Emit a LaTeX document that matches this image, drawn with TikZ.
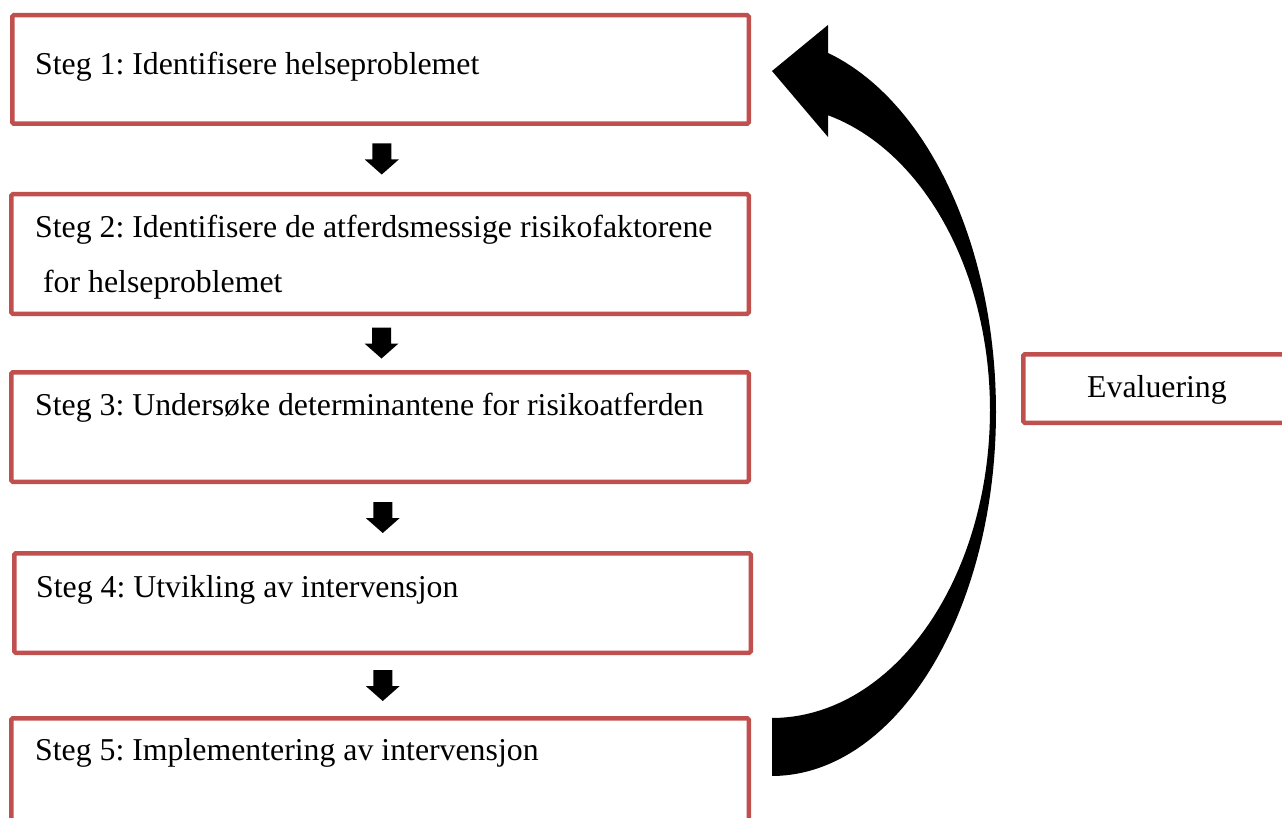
\documentclass[tikz,border=0pt]{standalone}
\usepackage{fontspec}
\setmainfont{Liberation Serif}
\usetikzlibrary{calc}
\definecolor{boxred}{RGB}{192,80,77}
\frenchspacing
\begin{document}
\begin{tikzpicture}[x=1pt,y=-1pt,
  stepbox/.style={draw=boxred, line width=4.5pt, rounded corners=1.5pt,
    outer sep=0pt, inner sep=0pt, anchor=north west},
  steptext/.style={anchor=base west, inner sep=0pt,
    font=\fontsize{31.8}{38}\selectfont},
  pics/downarr/.style={code={
    \fill[black] (-9.5,-15.5) -- (9.5,-15.5) -- (9.5,0.5) -- (17,0.5)
      -- (0,15.5) -- (-17,0.5) -- (-9.5,0.5) -- cycle;}}
]
\useasboundingbox (0,0) rectangle (1282,818);
\clip (0,0) rectangle (1282,818);

% the five steps and the evaluation box
\node[stepbox, minimum width=736.5pt, minimum height=108.5pt] (b1) at (12.25,15.25) {};
\node[stepbox, minimum width=737.5pt, minimum height=119.5pt] (b2) at (11.25,194.25) {};
\node[stepbox, minimum width=737.5pt, minimum height=109.5pt] (b3) at (11.25,372.25) {};
\node[stepbox, minimum width=736.5pt, minimum height=99.5pt]  (b4) at (14.25,553.25) {};
\node[stepbox, minimum width=737.5pt, minimum height=140pt]   (b5) at (11.25,718.25) {};
\node[stepbox, minimum width=300pt,   minimum height=68.5pt]  (ev) at (1023.25,354.25) {};

\node[steptext] (t1)  at ($(b1.north west)+(22.75,59)$) {Steg 1: Identifisere helseproblemet};
\node[steptext] (t2a) at ($(b2.north west)+(23.75,43)$) {Steg 2: Identifisere de atferdsmessige risikofaktorene};
\node[steptext] (t2b) at ($(b2.north west)+(23.75,98)$) {\ for helseproblemet};
\node[steptext] (t3)  at ($(b3.north west)+(23.75,43.5)$) {Steg 3: Undersøke determinantene for risikoatferden};
\node[steptext] (t4)  at ($(b4.north west)+(21.75,44)$) {Steg 4: Utvikling av intervensjon};
\node[steptext] (t5)  at ($(b5.north west)+(23.75,42)$) {Steg 5: Implementering av intervensjon};
\node[steptext] (tev) at ($(ev.north west)+(63.75,43)$) {Evaluering};

% block arrows between the steps
\pic at ($($(b1.south)!0.5!(b2.north)$)+(1.5,0)$) {downarr};
\pic at ($($(b2.south)!0.5!(b3.north)$)+(1.5,0)$) {downarr};
\pic at ($($(b3.south)!0.5!(b4.north)$)+(1.5,0)$) {downarr};
\pic at ($($(b4.south)!0.5!(b5.north)$)+(1.5,0)$) {downarr};

% curved feedback arrow from step 5 back to step 1:
% outer and inner edges are elliptic arcs, the head points left
\fill[black]
  plot[domain=-90:0, samples=50, variable=\t] ({772+224*cos(\t)},{412-364*sin(\t)})
  -- plot[domain=0:73.25, samples=50, variable=\t] ({760+236*cos(\t)},{412-375*sin(\t)})
  -- (828,25) -- (772,71) -- (828,137)
  -- plot[domain=75.1:0, samples=50, variable=\t] ({772+218*cos(\t)},{410-305*sin(\t)})
  -- plot[domain=0:-90, samples=50, variable=\t] ({772+218*cos(\t)},{410-308*sin(\t)})
  -- cycle;
\end{tikzpicture}
\end{document}
